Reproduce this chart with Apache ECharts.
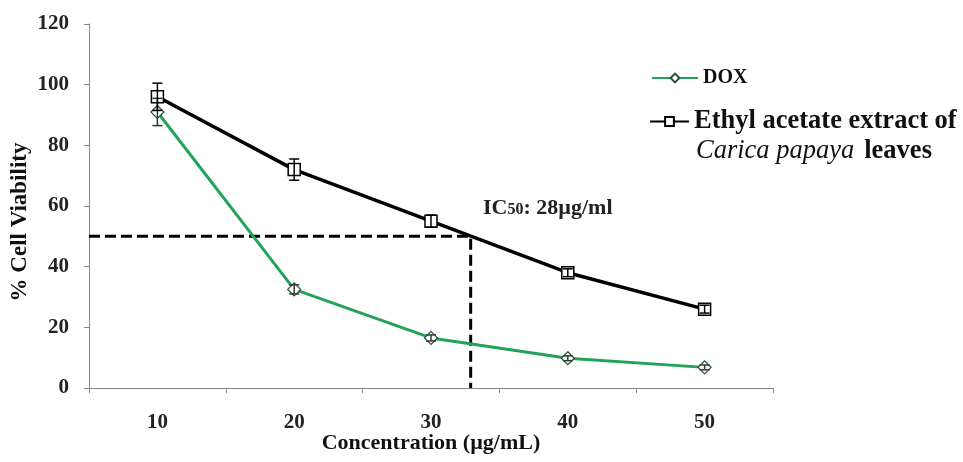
<!DOCTYPE html>
<html>
<head>
<meta charset="utf-8">
<script src="https://cdn.jsdelivr.net/npm/echarts@6/dist/echarts.min.js"></script>
<style>
  html, body { margin: 0; padding: 0; background: #fff; }
  #main { width: 963px; height: 462px; }
</style>
</head>
<body>
<div id="main"></div>
<script>
// concentrations (µg/mL)
var concLabels = ['10', '20', '30', '40', '50'];

// % cell viability
var doxVals = [91, 32.5, 16.5, 9.8, 6.8];
var doxErr = [4.5, 1.5, 1, 0.8, 0.8];
var eaVals = [96, 72, 55, 38, 26];
var eaErr = [4.5, 3.5, 2, 1.3, 1.3];

// IC50 guide (value x scale 5..55 spans the category band)
var icX = 32.9;
var icY = 50;

var yTicks = [0, 20, 40, 60, 80, 100, 120];

var serif = '"Liberation Serif", "DejaVu Serif", serif';

function errSeries(vals, errs, color) {
    var d = [];
    for (var i = 0; i < vals.length; i++) {
        d.push([i, vals[i] - errs[i], vals[i] + errs[i]]);
    }
    return {
        type: 'custom',
        z: 5,
        silent: true,
        data: d,
        renderItem: function (params, api) {
            var lo = api.coord([api.value(0), api.value(1)]);
            var hi = api.coord([api.value(0), api.value(2)]);
            var w = 5;
            var st = { stroke: color, lineWidth: 1.5 };
            return {
                type: 'group',
                children: [
                    { type: 'line', shape: { x1: lo[0], y1: lo[1], x2: hi[0], y2: hi[1] }, style: st },
                    { type: 'line', shape: { x1: lo[0] - w, y1: lo[1], x2: lo[0] + w, y2: lo[1] }, style: st },
                    { type: 'line', shape: { x1: hi[0] - w, y1: hi[1], x2: hi[0] + w, y2: hi[1] }, style: st }
                ]
            };
        }
    };
}

var chart = echarts.init(document.getElementById('main'));

var option = {
    backgroundColor: '#fff',
    animation: false,
    grid: {
        left: 89,
        right: 190,
        top: 24,
        bottom: 74,
        outerBoundsMode: 'none'
    },
    legend: [{
        orient: 'vertical',
        left: 646,
        top: 63,
        itemWidth: 46,
        itemHeight: 11,
        data: ['DOX'],
        textStyle: { fontFamily: serif, fontWeight: 'bold', fontSize: 20, color: '#111' }
    }, {
        orient: 'vertical',
        left: 644,
        top: 103,
        itemWidth: 39,
        itemHeight: 11,
        data: ['Ethyl acetate extract of'],
        textStyle: { fontFamily: serif, fontWeight: 'bold', fontSize: 26.5, color: '#111' }
    }],
    graphic: [{
        type: 'text',
        left: 696,
        top: 138,
        style: {
            text: '{i|Carica papaya}{b|leaves}',
            rich: {
                i: { fontFamily: serif, fontStyle: 'italic', fontSize: 26.5, fill: '#111' },
                b: { fontFamily: serif, fontWeight: 'bold', fontSize: 26.5, fill: '#111', padding: [0, 0, 0, 10] }
            }
        }
    }, {
        type: 'text',
        left: 483,
        top: 197,
        style: {
            text: '{a|IC}{s|50}{a|: 28µg/ml}',
            rich: {
                a: { fontFamily: serif, fontWeight: 'bold', fontSize: 22, fill: '#222' },
                s: { fontFamily: serif, fontWeight: 'bold', fontSize: 16, fill: '#222', padding: [4, 0, 0, 0] }
            }
        }
    }],
    xAxis: [{
        type: 'category',
        data: concLabels,
        boundaryGap: true,
        name: 'Concentration (µg/mL)',
        nameLocation: 'middle',
        nameGap: 44,
        nameMoveOverlap: false,
        nameTextStyle: { fontFamily: serif, fontWeight: 'bold', fontSize: 22, color: '#111' },
        axisLine: { lineStyle: { color: '#888', width: 1 } },
        axisTick: { show: true, length: 5, lineStyle: { color: '#888' } },
        axisLabel: { fontFamily: serif, fontWeight: 'bold', fontSize: 21, color: '#222', margin: 24 },
        splitLine: { show: false }
    }, {
        type: 'value',
        min: 5,
        max: 55,
        show: false
    }],
    yAxis: {
        type: 'value',
        min: yTicks[0],
        max: yTicks[yTicks.length - 1],
        interval: 20,
        name: '% Cell Viability',
        nameLocation: 'middle',
        nameGap: 57,
        nameMoveOverlap: false,
        nameTextStyle: { fontFamily: serif, fontWeight: 'bold', fontSize: 23, color: '#111', padding: [0, 32, 0, 0] },
        axisLine: { show: true, lineStyle: { color: '#888', width: 1 } },
        axisTick: { show: true, length: 5, lineStyle: { color: '#888' } },
        axisLabel: { fontFamily: serif, fontWeight: 'bold', fontSize: 21, color: '#222', margin: 20 },
        splitLine: { show: false }
    },
    series: [{
        name: 'IC50',
        type: 'line',
        xAxisIndex: 1,
        data: [[5, icY], [icX, icY], [icX, 0]],
        symbol: 'none',
        z: 1,
        lineStyle: { color: '#000', width: 3, type: [11, 5] }
    }, {
        name: 'DOX',
        type: 'line',
        data: doxVals,
        symbol: 'diamond',
        symbolSize: 13,
        z: 3,
        lineStyle: { color: '#22a35a', width: 3 },
        itemStyle: { color: '#fff', borderColor: '#2d4a3a', borderWidth: 1.2 }
    }, {
        name: 'Ethyl acetate extract of',
        type: 'line',
        data: eaVals,
        symbol: 'rect',
        symbolSize: 12,
        z: 3,
        lineStyle: { color: '#000', width: 3.5 },
        itemStyle: { color: '#fff', borderColor: '#000', borderWidth: 1.5 }
    },
    errSeries(doxVals, doxErr, '#2d3d33'),
    errSeries(eaVals, eaErr, '#000')
    ]
};

chart.setOption(option);
</script>
</body>
</html>
